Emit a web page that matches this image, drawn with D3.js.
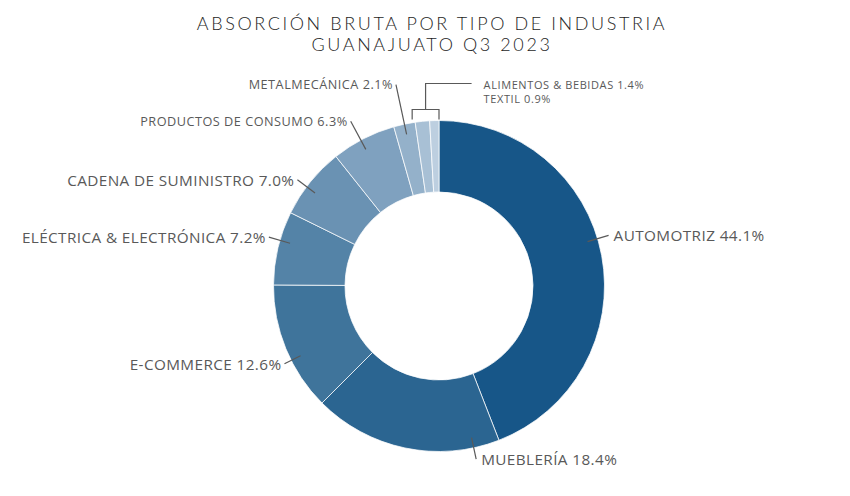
<!DOCTYPE html>
<html>
<head>
<meta charset="utf-8">
<script src="https://cdn.jsdelivr.net/npm/d3@7"></script>
<style>
  body { margin: 0; background: #fff; }
  .lbl { font-family: "Open Sans", sans-serif; fill: #595959; }
  .ttl { font-family: "Lato", sans-serif; font-weight: 300; fill: #1f1f1f; }
</style>
</head>
<body>
<svg id="chart" width="850" height="496"></svg>
<script>
// chart data
var categories = ['AUTOMOTRIZ', 'MUEBLERÍA', 'E-COMMERCE', 'ELÉCTRICA & ELECTRÓNICA',
    'CADENA DE SUMINISTRO', 'PRODUCTOS DE CONSUMO', 'METALMECÁNICA', 'ALIMENTOS & BEBIDAS', 'TEXTIL'];
var shares = [44.1, 18.4, 12.6, 7.2, 7.0, 6.3, 2.1, 1.4, 0.9];
var titleLines = ['ABSORCIÓN BRUTA POR TIPO DE INDUSTRIA', 'GUANAJUATO Q3 2023'];

// blue ramp, darkest first
var colors = ['#175688', '#2b6591', '#3f749b', '#5483a7', '#6a92b3', '#7fa1bf',
    '#94b1ca', '#a8c0d5', '#bdcfe0'];

// label layout tweaks (degrees shift, leader outer radius, font size)
var labelShift = { 0: -6, 1: -24, 2: -4.4, 3: 2.7, 4: -2, 5: -1 };
var leaderEnd = { 2: 173, 5: 187, 6: 206 };
var fontSize = { 5: 12.7, 6: 12.7, 7: 11, 8: 11 };
var grouped = [7, 8];

var width = 850, height = 496,
    cx = 439, cy = 286,
    outerR = 165.5, innerR = 94;

var svg = d3.select('#chart');

// title
svg.append('g').selectAll('text')
    .data(titleLines)
    .enter().append('text')
        .attr('class', 'ttl')
        .attr('x', 432)
        .attr('y', function(d, i){ return 30 + i * 21; })
        .attr('text-anchor', 'middle')
        .attr('font-size', 18)
        .attr('letter-spacing', 2.6)
        .text(function(d){ return d; });

var data = categories.map(function(c, i){ return { name: c, value: shares[i], idx: i }; });

var pie = d3.pie().sort(null).value(function(d){ return d.value; });
var arcs = pie(data);

var arc = d3.arc().innerRadius(innerR).outerRadius(outerR);

var g = svg.append('g').attr('transform', 'translate(' + cx + ',' + cy + ')');

g.selectAll('path')
    .data(arcs)
    .enter().append('path')
        .attr('d', arc)
        .attr('fill', function(d){ return colors[d.data.idx]; })
        .attr('stroke', 'rgba(255,255,255,0.75)')
        .attr('stroke-width', 1);

// leader lines + labels for single slices
var single = arcs.filter(function(d){ return grouped.indexOf(d.data.idx) < 0; });

single.forEach(function(d){
    var i = d.data.idx;
    var a = (d.startAngle + d.endAngle) / 2 + (labelShift[i] || 0) * Math.PI / 180;
    var p0 = d3.pointRadial(a, 155);
    var p1 = d3.pointRadial(a, leaderEnd[i] || 177);
    var right = Math.sin(a) > 0;
    var fs = fontSize[i] || 15.3;

    g.append('line')
        .attr('x1', p0[0]).attr('y1', p0[1])
        .attr('x2', p1[0]).attr('y2', p1[1])
        .attr('stroke', '#595959')
        .attr('stroke-width', 1.2);

    g.append('text')
        .attr('class', 'lbl')
        .attr('x', p1[0] + (right ? 5 : -3))
        .attr('y', p1[1])
        .attr('dy', '0.38em')
        .attr('text-anchor', right ? 'start' : 'end')
        .attr('font-size', fs)
        .attr('letter-spacing', fs < 14 ? 0.5 : 0.4)
        .text(d.data.name + ' ' + d.data.value.toFixed(1) + '%');
});

// bracket for the two smallest slices
var ga = arcs.filter(function(d){ return grouped.indexOf(d.data.idx) >= 0; });
var bx0 = d3.pointRadial(ga[0].startAngle, outerR)[0] - 3,
    bx1 = d3.pointRadial(ga[ga.length - 1].endAngle, outerR)[0],
    bMid = (bx0 + bx1) / 2,
    bBottom = -outerR - 1,
    bTop = bBottom - 10;

g.append('path')
    .attr('d', 'M' + bx0 + ',' + bBottom + 'V' + bTop + 'H' + bx1 + 'V' + bBottom +
        'M' + bMid + ',' + bTop + 'V' + (bTop - 26) + 'H' + (bMid + 46))
    .attr('fill', 'none')
    .attr('stroke', '#595959')
    .attr('stroke-width', 1.2);

g.selectAll('.grp')
    .data(ga)
    .enter().append('text')
        .attr('class', 'lbl grp')
        .attr('x', bMid + 58)
        .attr('y', function(d, i){ return bTop - 21 + i * 14; })
        .attr('font-size', fontSize[d3.min(grouped)])
        .attr('letter-spacing', 0.6)
        .text(function(d){ return d.data.name + ' ' + d.data.value.toFixed(1) + '%'; });
</script>
</body>
</html>
